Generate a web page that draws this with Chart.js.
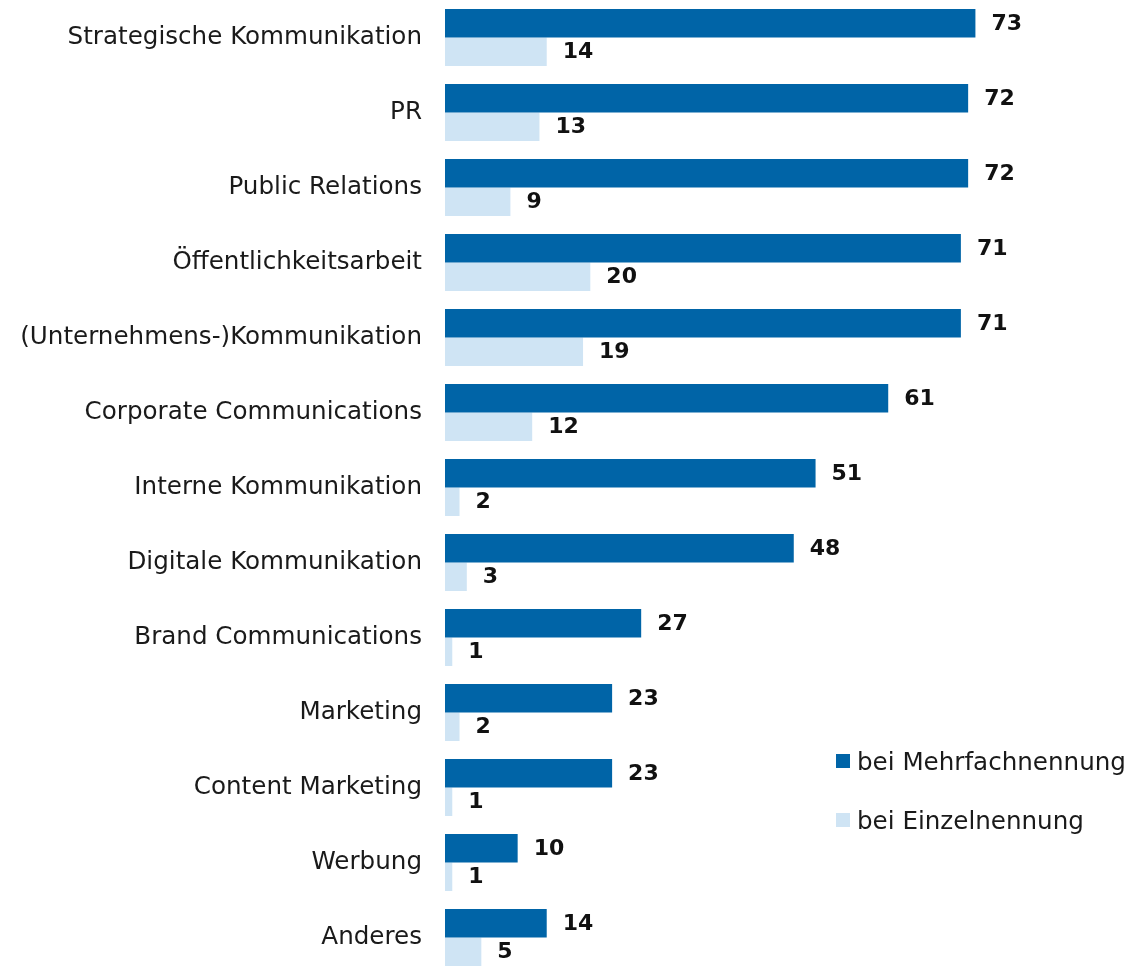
<!DOCTYPE html>
<html>
<head>
<meta charset="utf-8">
<script src="https://cdn.jsdelivr.net/npm/chart.js@4"></script>
<style>
  html, body { margin: 0; padding: 0; background: #fff; overflow: hidden; }
  #wrap { position: relative; width: 1128px; height: 975px; }
  #legend { position: absolute; left: 836px; top: 741px; font-family: "DejaVu Sans"; font-size: 24.6px; color: #1a1a1a; }
  #legend .item { display: flex; align-items: center; height: 40px; margin-bottom: 19px; }
  #legend .box { width: 14px; height: 14px; margin-right: 7px; }
</style>
</head>
<body>
<div id="wrap">
  <canvas id="chart" width="1128" height="975"></canvas>
  <div id="legend"></div>
</div>
<script>
var categories = [
    'Strategische Kommunikation',
    'PR',
    'Public Relations',
    'Öffentlichkeitsarbeit',
    '(Unternehmens-)Kommunikation',
    'Corporate Communications',
    'Interne Kommunikation',
    'Digitale Kommunikation',
    'Brand Communications',
    'Marketing',
    'Content Marketing',
    'Werbung',
    'Anderes'
];
var mehrfach = [73, 72, 72, 71, 71, 61, 51, 48, 27, 23, 23, 10, 14];
var einzeln = [14, 13, 9, 20, 19, 12, 2, 3, 1, 2, 1, 1, 5];

var seriesNames = ['bei Mehrfachnennung', 'bei Einzelnennung'];
var seriesColors = ['#0064a7', '#cfe4f4'];

// prints the value to the right of each bar
var valueLabels = {
    id: 'valueLabels',
    afterDatasetsDraw(chart) {
        var ctx = chart.ctx;
        ctx.save();
        ctx.font = 'bold 22px "DejaVu Sans"';
        ctx.fillStyle = '#111';
        ctx.textAlign = 'left';
        ctx.textBaseline = 'middle';
        chart.data.datasets.forEach((ds, i) => {
            chart.getDatasetMeta(i).data.forEach((bar, j) => {
                ctx.fillText(ds.data[j], bar.x + 16, bar.y + 1);
            });
        });
        ctx.restore();
    }
};

var ctx = document.getElementById('chart').getContext('2d');

var chart = new Chart(ctx, {
    type: 'bar',
    data: {
        labels: categories,
        datasets: [{
            label: seriesNames[0],
            data: mehrfach,
            backgroundColor: seriesColors[0],
            borderWidth: 0
        }, {
            label: seriesNames[1],
            data: einzeln,
            backgroundColor: seriesColors[1],
            borderWidth: 0
        }]
    },
    options: {
        indexAxis: 'y',
        responsive: false,
        animation: false,
        layout: { padding: 0 },
        datasets: {
            bar: { categoryPercentage: 0.76, barPercentage: 1 }
        },
        scales: {
            x: {
                display: false,
                min: 0,
                max: 94
            },
            y: {
                grid: { display: false, drawTicks: false },
                border: { display: false },
                ticks: {
                    padding: 23,
                    color: '#1a1a1a',
                    font: { family: 'DejaVu Sans', size: 24.6 }
                },
                afterFit: (scale) => {
                    scale.width = 445;
                    // bars run right up to the top and bottom edge
                    scale.paddingTop = 0;
                    scale.paddingBottom = 0;
                }
            }
        },
        plugins: {
            legend: { display: false },
            tooltip: { enabled: false }
        }
    },
    plugins: [valueLabels]
});

// legend built from the datasets
var legend = document.getElementById('legend');
chart.data.datasets.forEach((ds) => {
    var item = document.createElement('div');
    item.className = 'item';
    var box = document.createElement('span');
    box.className = 'box';
    box.style.background = ds.backgroundColor;
    var text = document.createElement('span');
    text.textContent = ds.label;
    item.appendChild(box);
    item.appendChild(text);
    legend.appendChild(item);
});
</script>
</body>
</html>
